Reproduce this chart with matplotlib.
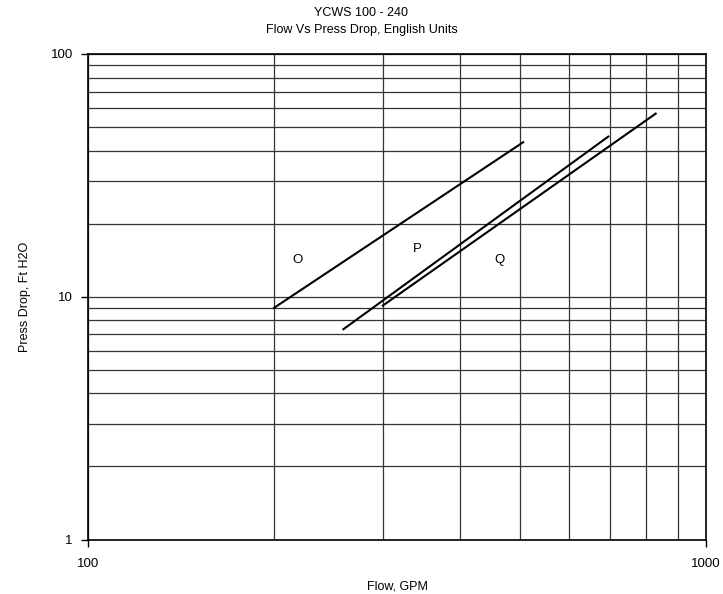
import matplotlib
matplotlib.use("Agg")
import matplotlib.pyplot as plt
from matplotlib.ticker import LogLocator, NullFormatter, FixedLocator, FixedFormatter

plt.rcParams['font.family'] = ['Liberation Sans', 'DejaVu Sans']

# Curve end points (GPM, Ft H2O)
o_flow = [200, 506]
o_drop = [9.0, 43.3]
p_flow = [259, 695]
p_drop = [7.35, 45.7]
q_flow = [300, 829]
q_drop = [9.2, 56.8]

# Curve labels
label_names = ["O", "P", "Q"]
label_flow = [218, 341, 464]
label_drop = [14.2, 15.7, 14.2]

x_ticks = [100, 1000]
y_ticks = [1, 10, 100]

fig = plt.figure(figsize=(7.23, 5.94), dpi=100)
ax = fig.add_axes([88 / 723, 1 - 539.5 / 594, 618 / 723, 485.5 / 594])

ax.plot(o_flow, o_drop, color="black", lw=1.5)
ax.plot(p_flow, p_drop, color="black", lw=1.5)
ax.plot(q_flow, q_drop, color="black", lw=1.5)

for name, fx, fy in zip(label_names, label_flow, label_drop):
    ax.text(fx, fy, name, fontsize=9.5, ha="center", va="center")

ax.set_xscale("log")
ax.set_yscale("log")
ax.set_xlim(100, 1000)
ax.set_ylim(1, 100)

ax.xaxis.set_major_locator(FixedLocator(x_ticks))
ax.xaxis.set_major_formatter(FixedFormatter([str(v) for v in x_ticks]))
ax.yaxis.set_major_locator(FixedLocator(y_ticks))
ax.yaxis.set_major_formatter(FixedFormatter([str(v) for v in y_ticks]))
ax.xaxis.set_minor_locator(LogLocator(base=10, subs=range(2, 10)))
ax.yaxis.set_minor_locator(LogLocator(base=10, subs=range(2, 10)))
ax.xaxis.set_minor_formatter(NullFormatter())
ax.yaxis.set_minor_formatter(NullFormatter())

ax.grid(True, which="both", color="#333333", lw=0.9)
ax.tick_params(which="minor", length=0)
ax.tick_params(axis="x", which="major", length=5, width=1, pad=8, labelsize=9.5)
ax.tick_params(axis="y", which="major", length=5, width=1, pad=6, labelsize=9.5)
for s in ax.spines.values():
    s.set_color("black")
    s.set_linewidth(1.2)

ax.set_xlabel("Flow, GPM", fontsize=9, labelpad=8)
ax.set_ylabel("Press Drop, Ft H2O", fontsize=9, labelpad=14)

fig.text(0.5, 1 - 13 / 594, "YCWS 100 - 240", ha="center", va="center", fontsize=9)
fig.text(0.5, 1 - 30 / 594, "Flow Vs Press Drop, English Units", ha="center", va="center", fontsize=9)

fig.savefig("out.png", dpi=100)
